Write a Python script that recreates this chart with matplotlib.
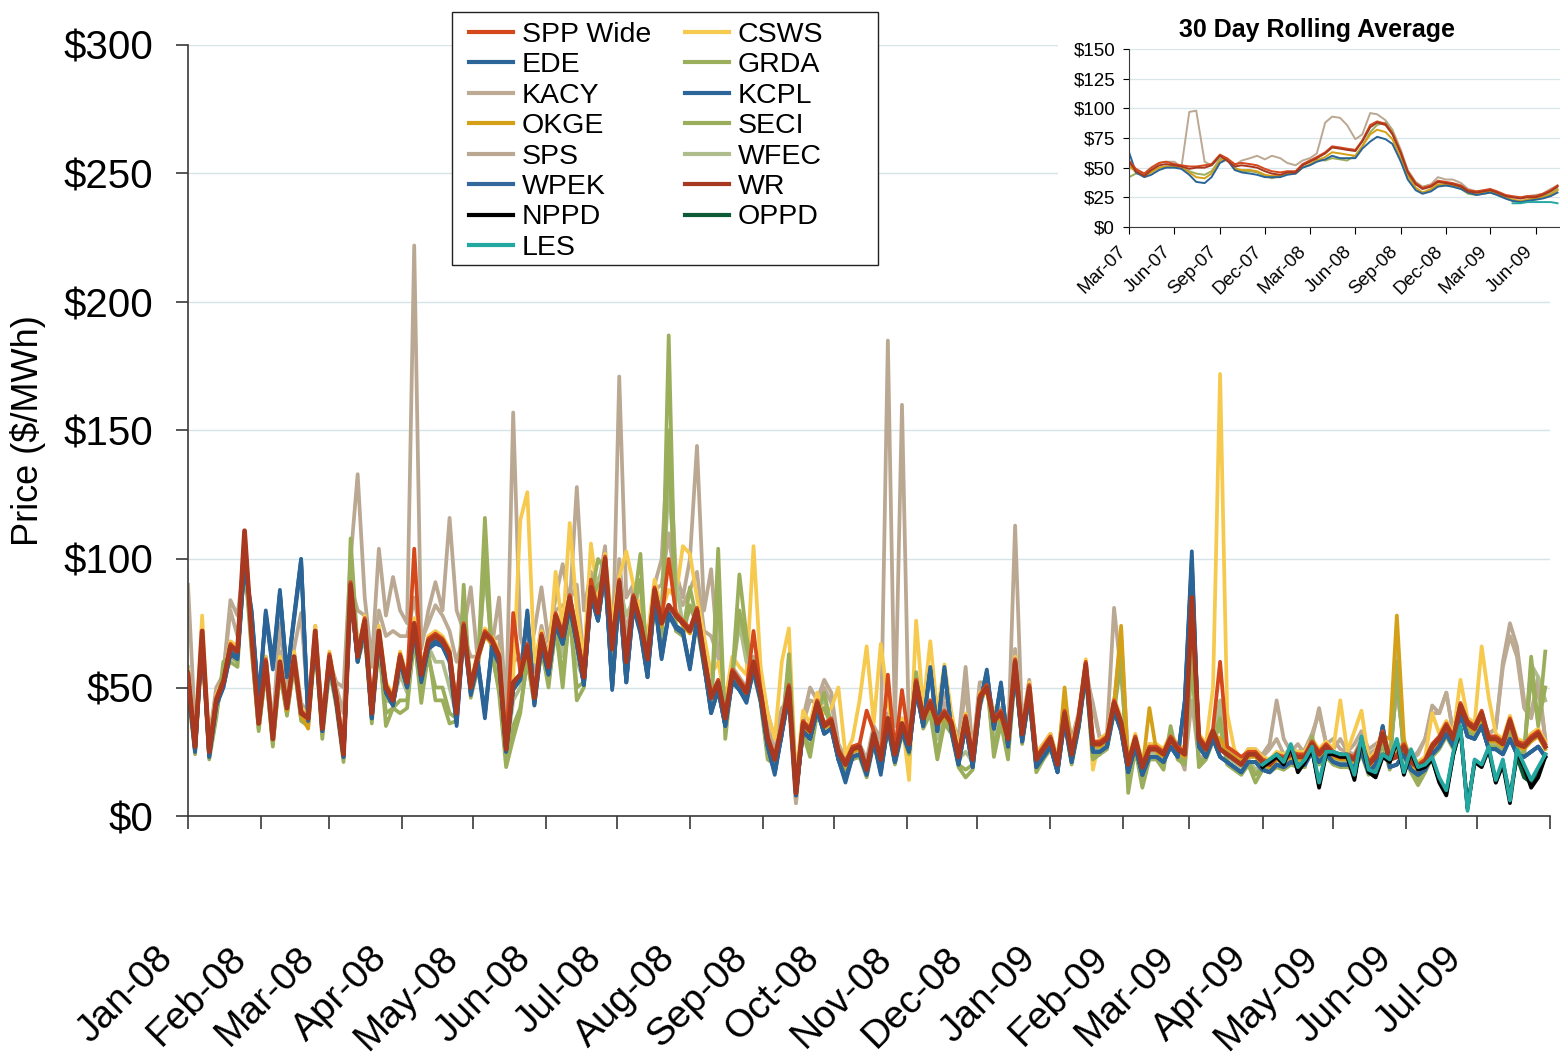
import numpy as np
import pandas as pd
import matplotlib
matplotlib.use("Agg")
import matplotlib.pyplot as plt
from matplotlib.patches import Rectangle
from matplotlib.transforms import ScaledTranslation, blended_transform_factory

plt.rcParams["font.family"] = ["Liberation Sans", "DejaVu Sans"]

# daily prices sampled every 3 days, Jan-08 .. Jul-09
days = pd.date_range("2008-01-01", periods=193, freq="3D")
late_days = pd.date_range("2009-04-01", periods=41, freq="3D")

wr = [55, 27, 72, 25, 45, 52, 66, 64, 111, 70,
      36, 60, 30, 60, 42, 62, 40, 38, 72, 34,
      62, 46, 24, 90, 62, 76, 40, 72, 50, 45,
      62, 52, 75, 55, 68, 70, 68, 63, 40, 74,
      50, 62, 71, 68, 62, 26, 52, 55, 66, 46,
      70, 58, 78, 70, 85, 70, 54, 89, 79, 100,
      65, 91, 60, 85, 75, 61, 88, 75, 82, 78,
      75, 72, 80, 62, 46, 52, 38, 56, 52, 48,
      60, 48, 30, 22, 35, 50, 9, 36, 33, 44,
      35, 37, 25, 20, 26, 27, 18, 32, 22, 38,
      24, 36, 28, 52, 38, 44, 36, 40, 36, 23,
      38, 22, 46, 50, 37, 40, 30, 60, 32, 50,
      22, 26, 30, 20, 40, 24, 38, 59, 28, 28,
      30, 44, 36, 20, 30, 19, 26, 26, 24, 30,
      26, 24, 85, 30, 26, 33, 26, 24, 22, 20,
      24, 24, 21, 20, 23, 22, 24, 23, 23, 28,
      24, 27, 24, 23, 23, 22, 28, 20, 23, 32,
      22, 23, 27, 21, 19, 21, 27, 30, 35, 30,
      43, 36, 34, 40, 30, 30, 28, 37, 28, 27,
      30, 32, 27]

spp = [56, 28, 72, 26, 46, 53, 67, 64, 110, 71,
       37, 61, 31, 60, 43, 62, 41, 38, 72, 35,
       63, 47, 25, 91, 63, 77, 41, 72, 51, 46,
       63, 53, 104, 56, 69, 71, 69, 64, 42, 75,
       51, 63, 72, 69, 63, 27, 79, 56, 67, 47,
       71, 59, 79, 71, 86, 71, 55, 92, 80, 101,
       66, 92, 61, 86, 76, 62, 89, 76, 100, 79,
       76, 73, 81, 63, 47, 53, 39, 57, 53, 49,
       72, 49, 31, 23, 36, 51, 10, 37, 34, 45,
       36, 38, 26, 21, 27, 28, 41, 33, 23, 55,
       25, 49, 29, 53, 39, 45, 37, 41, 37, 24,
       39, 23, 47, 51, 38, 41, 31, 61, 33, 51,
       23, 27, 31, 21, 41, 25, 39, 60, 29, 29,
       31, 45, 37, 21, 31, 20, 27, 27, 25, 31,
       27, 25, 85, 31, 27, 34, 60, 27, 25, 23,
       25, 25, 22, 21, 24, 23, 25, 24, 24, 29,
       25, 28, 25, 24, 24, 23, 29, 21, 24, 33,
       23, 24, 28, 22, 20, 22, 28, 31, 36, 31,
       44, 37, 35, 41, 31, 31, 29, 38, 29, 28,
       31, 33, 28]

ede = [52, 25, 70, 23, 43, 50, 63, 62, 98, 80,
       45, 80, 60, 88, 55, 78, 100, 38, 70, 33,
       60, 44, 23, 88, 60, 74, 38, 70, 48, 43,
       60, 50, 72, 53, 65, 68, 66, 60, 36, 72,
       48, 60, 40, 66, 60, 25, 50, 53, 80, 44,
       67, 55, 75, 67, 82, 67, 51, 86, 76, 96,
       50, 88, 52, 82, 72, 54, 85, 62, 79, 74,
       72, 58, 77, 59, 40, 49, 35, 53, 49, 45,
       57, 45, 27, 17, 32, 47, 8, 33, 30, 41,
       32, 34, 22, 14, 23, 24, 16, 29, 17, 35,
       21, 33, 25, 49, 35, 58, 33, 58, 33, 20,
       35, 19, 43, 57, 34, 52, 27, 57, 29, 47,
       19, 23, 27, 17, 37, 21, 35, 56, 25, 25,
       27, 41, 33, 17, 27, 16, 23, 23, 21, 27,
       23, 45, 103, 27, 23, 30, 23, 21, 19, 17,
       21, 21, 18, 17, 20, 19, 21, 20, 20, 25,
       21, 24, 21, 20, 20, 19, 25, 17, 20, 35,
       19, 20, 24, 18, 16, 18, 24, 27, 32, 27,
       40, 31, 30, 35, 26, 26, 24, 30, 24, 23,
       25, 27, 23]

kcpl = [52, 25, 69, 23, 43, 50, 63, 61, 98, 79,
        44, 79, 58, 87, 54, 77, 100, 37, 69, 33,
        60, 44, 23, 87, 60, 73, 38, 69, 48, 43,
        60, 50, 72, 52, 65, 67, 66, 60, 35, 71,
        47, 59, 38, 65, 59, 25, 49, 53, 79, 43,
        66, 55, 74, 67, 81, 67, 51, 85, 76, 95,
        49, 87, 52, 81, 71, 54, 84, 61, 78, 73,
        71, 57, 76, 59, 40, 49, 35, 52, 49, 44,
        57, 45, 27, 16, 32, 47, 8, 33, 30, 41,
        32, 34, 22, 13, 23, 24, 16, 29, 16, 35,
        21, 33, 25, 49, 35, 57, 33, 57, 33, 20,
        35, 19, 43, 56, 34, 51, 27, 57, 29, 47,
        19, 23, 27, 17, 37, 21, 35, 56, 25, 25,
        27, 41, 33, 17, 27, 16, 23, 23, 21, 27,
        23, 44, 100, 27, 23, 30, 23, 21, 19, 17,
        21, 21, 18, 17, 20, 19, 21, 20, 20, 25,
        21, 24, 21, 20, 20, 19, 25, 17, 20, 35,
        19, 20, 24, 18, 16, 18, 24, 27, 32, 27,
        40, 31, 30, 35, 26, 26, 24, 30, 24, 23,
        25, 27, 23]

wpek = [53, 26, 70, 24, 44, 51, 64, 62, 99, 78,
        44, 78, 57, 86, 54, 76, 98, 37, 70, 33,
        60, 44, 23, 88, 60, 74, 38, 70, 48, 43,
        60, 50, 73, 53, 66, 68, 66, 61, 37, 72,
        48, 60, 40, 66, 60, 25, 50, 53, 78, 44,
        67, 55, 75, 67, 82, 67, 51, 86, 76, 96,
        50, 88, 52, 82, 72, 55, 85, 62, 79, 74,
        72, 58, 77, 59, 41, 49, 35, 53, 49, 45,
        57, 45, 27, 17, 32, 47, 8, 33, 30, 41,
        32, 34, 22, 15, 23, 24, 17, 29, 18, 35,
        21, 33, 25, 49, 35, 57, 33, 57, 33, 20,
        35, 19, 43, 56, 34, 51, 27, 57, 29, 47,
        19, 23, 27, 17, 37, 21, 35, 56, 25, 25,
        27, 41, 33, 17, 27, 16, 23, 23, 21, 27,
        23, 44, 98, 27, 23, 30, 23, 21, 19, 17,
        21, 21, 18, 17, 20, 19, 21, 20, 20, 25,
        21, 24, 21, 20, 20, 19, 25, 17, 20, 34,
        19, 20, 24, 18, 16, 18, 24, 27, 32, 27,
        40, 31, 30, 35, 26, 26, 24, 30, 24, 23,
        25, 27, 23]

okge = [54, 26, 71, 24, 44, 51, 65, 63, 108, 69,
        36, 59, 30, 59, 41, 61, 39, 34, 71, 33,
        61, 45, 23, 89, 61, 75, 39, 71, 49, 44,
        61, 51, 74, 54, 67, 69, 67, 62, 40, 73,
        49, 61, 70, 67, 61, 25, 52, 54, 65, 45,
        69, 57, 77, 69, 84, 69, 53, 88, 78, 99,
        64, 90, 59, 84, 74, 60, 87, 74, 81, 80,
        74, 71, 79, 61, 45, 51, 37, 55, 51, 47,
        59, 47, 29, 21, 34, 49, 8, 35, 32, 43,
        34, 36, 24, 19, 25, 26, 17, 31, 21, 37,
        23, 35, 27, 51, 37, 43, 35, 39, 35, 22,
        37, 21, 45, 49, 36, 39, 29, 59, 31, 49,
        21, 25, 29, 19, 50, 23, 37, 58, 27, 27,
        29, 43, 74, 19, 29, 18, 42, 25, 23, 29,
        25, 23, 82, 29, 25, 32, 30, 25, 23, 21,
        23, 23, 20, 19, 22, 21, 23, 22, 22, 27,
        23, 26, 23, 22, 22, 21, 27, 19, 22, 31,
        30, 78, 30, 20, 18, 20, 26, 29, 34, 29,
        43, 35, 33, 39, 29, 29, 27, 36, 27, 26,
        29, 31, 26]

csws = [57, 29, 78, 27, 47, 54, 68, 66, 108, 72,
        38, 62, 32, 62, 44, 64, 42, 40, 74, 36,
        64, 48, 26, 92, 64, 78, 42, 74, 52, 47,
        64, 54, 77, 57, 70, 72, 70, 65, 42, 76,
        52, 64, 73, 70, 64, 28, 54, 115, 126, 60,
        72, 60, 95, 72, 114, 80, 60, 106, 85, 102,
        75, 93, 103, 90, 80, 70, 92, 80, 88, 85,
        105, 102, 85, 70, 55, 60, 45, 62, 58, 55,
        105, 58, 40, 30, 60, 73, 14, 41, 36, 48,
        40, 42, 50, 24, 30, 45, 66, 36, 67, 45,
        28, 38, 14, 76, 42, 68, 40, 59, 40, 26,
        40, 24, 48, 50, 39, 48, 32, 62, 34, 52,
        24, 28, 32, 22, 42, 26, 40, 61, 18, 30,
        32, 46, 38, 22, 32, 21, 28, 28, 26, 32,
        28, 26, 80, 32, 28, 50, 172, 40, 26, 22,
        26, 26, 23, 22, 25, 24, 26, 25, 25, 30,
        26, 29, 26, 45, 25, 33, 41, 22, 25, 34,
        24, 25, 29, 23, 21, 23, 40, 32, 37, 32,
        53, 38, 36, 66, 46, 32, 30, 39, 30, 29,
        32, 34, 29]

grda = [50, 24, 68, 22, 38, 60, 62, 60, 105, 66,
        33, 57, 27, 57, 39, 60, 37, 35, 68, 30,
        58, 42, 21, 108, 65, 72, 36, 68, 35, 42,
        40, 42, 70, 44, 64, 45, 45, 36, 37, 90,
        46, 58, 116, 64, 48, 19, 30, 40, 62, 43,
        66, 50, 74, 50, 80, 45, 50, 85, 100, 96,
        50, 87, 60, 81, 102, 54, 84, 70, 187, 74,
        71, 89, 76, 58, 42, 104, 30, 55, 94, 70,
        56, 44, 22, 20, 31, 63, 10, 32, 23, 40,
        48, 35, 22, 18, 22, 23, 15, 28, 18, 34,
        20, 32, 24, 56, 34, 40, 22, 36, 32, 19,
        15, 18, 42, 53, 23, 36, 22, 56, 28, 46,
        17, 22, 26, 20, 36, 20, 34, 55, 22, 24,
        26, 40, 66, 9, 26, 11, 22, 22, 18, 35,
        22, 20, 70, 19, 22, 29, 35, 20, 18, 16,
        20, 13, 18, 17, 19, 18, 20, 19, 19, 31,
        20, 23, 20, 19, 19, 18, 24, 16, 19, 28,
        18, 60, 23, 17, 12, 17, 23, 26, 31, 26,
        39, 32, 30, 36, 26, 26, 24, 33, 24, 23,
        62, 35, 64]

seci = [48, 25, 66, 23, 40, 55, 60, 58, 100, 64,
        34, 56, 28, 55, 40, 58, 38, 36, 66, 32,
        56, 44, 22, 95, 60, 70, 38, 66, 40, 42,
        45, 45, 68, 48, 62, 50, 50, 40, 38, 80,
        48, 56, 100, 62, 50, 22, 35, 42, 60, 44,
        64, 52, 72, 55, 78, 50, 52, 84, 90, 92,
        55, 85, 58, 80, 92, 56, 82, 68, 150, 72,
        70, 82, 74, 58, 44, 88, 34, 54, 80, 66,
        55, 45, 24, 21, 32, 58, 12, 33, 26, 40,
        42, 35, 23, 19, 23, 24, 17, 29, 20, 35,
        21, 33, 25, 54, 35, 42, 24, 37, 33, 20,
        18, 20, 43, 52, 26, 38, 24, 56, 29, 47,
        19, 23, 27, 20, 37, 21, 35, 55, 23, 25,
        27, 41, 60, 12, 27, 13, 23, 23, 20, 33,
        23, 21, 60, 21, 23, 30, 38, 21, 19, 17,
        21, 16, 19, 18, 20, 19, 21, 20, 20, 30,
        21, 24, 21, 20, 20, 19, 25, 17, 20, 29,
        19, 55, 24, 18, 14, 18, 24, 27, 32, 27,
        40, 33, 31, 37, 27, 27, 25, 34, 25, 24,
        55, 36, 50]

wfec = [52, 26, 69, 24, 44, 55, 64, 62, 105, 68,
        35, 59, 29, 58, 41, 61, 39, 37, 70, 33,
        60, 45, 23, 85, 62, 74, 38, 70, 45, 44,
        55, 48, 72, 50, 66, 60, 60, 50, 39, 82,
        49, 60, 95, 66, 55, 24, 45, 50, 64, 45,
        68, 56, 76, 62, 82, 60, 53, 87, 92, 98,
        62, 89, 78, 84, 90, 60, 86, 80, 130, 92,
        74, 80, 78, 62, 45, 85, 36, 55, 75, 60,
        58, 47, 28, 22, 34, 60, 10, 35, 32, 42,
        45, 36, 24, 19, 24, 25, 18, 30, 21, 36,
        23, 34, 26, 52, 36, 43, 30, 38, 34, 22,
        25, 21, 44, 52, 30, 39, 28, 58, 30, 48,
        20, 24, 28, 20, 38, 22, 36, 57, 26, 26,
        28, 42, 68, 14, 28, 15, 24, 24, 22, 30,
        24, 22, 65, 26, 24, 31, 45, 23, 21, 19,
        22, 18, 20, 19, 22, 20, 22, 21, 21, 30,
        22, 25, 22, 21, 21, 20, 26, 18, 21, 30,
        20, 67, 26, 19, 16, 19, 25, 28, 33, 28,
        42, 34, 32, 38, 28, 28, 26, 35, 26, 25,
        59, 54, 45]

kacy = [58, 30, 66, 28, 48, 55, 80, 70, 95, 72,
        40, 62, 33, 64, 46, 64, 44, 40, 74, 37,
        62, 50, 40, 90, 80, 78, 58, 80, 70, 72,
        70, 70, 85, 68, 75, 82, 78, 72, 60, 70,
        62, 62, 70, 68, 70, 38, 60, 62, 66, 56,
        74, 62, 80, 82, 84, 90, 60, 90, 84, 100,
        60, 100, 70, 88, 80, 58, 88, 90, 110, 88,
        82, 88, 95, 72, 70, 62, 46, 58, 54, 50,
        60, 52, 34, 26, 38, 44, 5, 36, 45, 44,
        50, 44, 28, 22, 26, 28, 20, 34, 26, 40,
        26, 38, 28, 50, 38, 44, 36, 44, 36, 28,
        50, 24, 50, 50, 38, 40, 30, 65, 34, 52,
        24, 28, 32, 22, 42, 26, 40, 58, 42, 30,
        30, 44, 70, 22, 28, 16, 26, 24, 24, 28,
        26, 20, 45, 22, 24, 32, 35, 26, 24, 22,
        26, 26, 23, 26, 30, 24, 25, 25, 26, 32,
        40, 28, 26, 30, 25, 24, 30, 24, 26, 30,
        24, 50, 28, 22, 24, 30, 40, 40, 48, 32,
        40, 38, 36, 38, 32, 34, 58, 70, 62, 42,
        38, 50, 30]

sps = [90, 35, 62, 30, 50, 55, 84, 78, 100, 72,
       40, 62, 35, 75, 48, 65, 79, 42, 70, 38,
       60, 52, 50, 100, 133, 85, 60, 104, 78, 93,
       80, 75, 222, 65, 80, 91, 80, 116, 80, 72,
       89, 60, 72, 66, 85, 40, 157, 70, 60, 72,
       89, 68, 85, 98, 82, 128, 80, 95, 88, 105,
       55, 171, 85, 90, 80, 58, 90, 100, 150, 95,
       85, 100, 144, 80, 96, 62, 45, 58, 52, 48,
       62, 55, 40, 30, 42, 45, 5, 38, 50, 45,
       53, 48, 28, 22, 27, 28, 22, 35, 30, 185,
       35, 160, 30, 52, 40, 45, 38, 48, 38, 30,
       58, 25, 52, 52, 40, 42, 28, 113, 35, 53,
       24, 28, 30, 22, 45, 30, 40, 55, 44, 30,
       32, 81, 55, 22, 28, 14, 28, 24, 26, 28,
       25, 18, 60, 22, 24, 30, 40, 26, 25, 22,
       26, 25, 24, 28, 45, 30, 25, 28, 24, 30,
       42, 28, 30, 26, 25, 28, 33, 26, 28, 30,
       24, 50, 28, 22, 25, 30, 43, 40, 48, 32,
       40, 38, 36, 38, 32, 34, 60, 75, 66, 45,
       40, 54, 30]

# only reported from Apr-09
les = [20, 22, 24, 21, 28, 19, 22, 27, 13, 25,
       25, 24, 24, 16, 31, 18, 17, 24, 22, 30,
       17, 26, 19, 20, 23, 15, 10, 25, 35, 2,
       22, 20, 27, 14, 22, 6, 26, 20, 14, 19, 24]
nppd = [19, 21, 23, 20, 27, 17, 21, 26, 11, 24,
        24, 23, 23, 14, 30, 17, 15, 23, 21, 29,
        16, 25, 18, 19, 22, 13, 8, 24, 34, 3,
        21, 19, 26, 13, 20, 5, 25, 19, 11, 15, 23]
oppd = [20, 21, 24, 21, 27, 18, 22, 26, 12, 25,
        24, 24, 23, 15, 30, 18, 16, 24, 22, 29,
        17, 25, 19, 20, 22, 14, 9, 24, 34, 3,
        21, 20, 26, 13, 21, 8, 23, 15, 13, 17, 24]

# 30 day rolling average, 1st and 15th of each month, Mar-07 .. Jul-09
roll_days = pd.date_range("2007-03-01", periods=58, freq="SMS")
roll_late = pd.date_range("2009-04-15", periods=7, freq="SMS")
roll_wr = [55, 47, 43, 48, 52, 53, 52, 51, 49, 50, 50, 52, 60, 56, 51, 52,
           51, 50, 47, 45, 44, 46, 46, 52, 55, 58, 62, 67, 66, 65, 64, 72,
           84, 88, 86, 78, 62, 46, 36, 32, 34, 38, 37, 36, 34, 30, 29, 30,
           31, 29, 26, 25, 24, 25, 25, 27, 30, 34]
roll_spp = [56, 49, 45, 50, 54, 55, 53, 52, 51, 51, 52, 53, 61, 58, 53, 54,
            53, 52, 49, 47, 46, 47, 47, 53, 56, 59, 63, 68, 67, 66, 65, 73,
            86, 89, 87, 79, 63, 47, 37, 33, 35, 39, 38, 37, 35, 31, 30, 31,
            32, 30, 27, 26, 25, 26, 26, 28, 31, 35]
roll_ede = [63, 46, 42, 44, 48, 50, 50, 49, 44, 38, 37, 42, 54, 57, 48, 46,
            45, 44, 42, 42, 42, 44, 45, 50, 52, 55, 57, 60, 58, 58, 58, 66,
            72, 76, 74, 70, 55, 40, 31, 28, 30, 34, 35, 34, 32, 29, 27, 28,
            29, 27, 24, 22, 21, 22, 23, 24, 26, 29]
roll_okge = [52, 46, 43, 46, 50, 51, 51, 50, 46, 42, 41, 45, 56, 57, 49, 48,
             48, 47, 44, 43, 43, 45, 45, 50, 53, 56, 59, 63, 62, 61, 60, 68,
             78, 82, 80, 74, 58, 43, 33, 29, 32, 36, 36, 35, 33, 29, 28, 29,
             30, 28, 25, 23, 22, 23, 24, 25, 27, 31]
roll_grda = [42, 45, 44, 47, 50, 51, 51, 50, 47, 45, 44, 47, 57, 58, 50, 47,
             47, 46, 43, 41, 43, 45, 46, 52, 56, 57, 56, 58, 57, 56, 60, 68,
             80, 86, 88, 80, 63, 45, 33, 29, 31, 35, 35, 34, 32, 28, 27, 28,
             29, 27, 24, 22, 21, 23, 24, 26, 28, 32]
roll_sps = [50, 48, 45, 50, 54, 55, 55, 50, 97, 98, 55, 52, 58, 56, 52, 56,
            58, 60, 57, 60, 58, 54, 52, 56, 58, 62, 88, 93, 92, 86, 74, 78,
            96, 95, 90, 82, 65, 48, 38, 34, 36, 42, 40, 40, 37, 32, 30, 30,
            32, 28, 26, 25, 25, 26, 27, 28, 32, 35]
roll_les = [20, 20, 21, 21, 21, 21, 20]

legend_order = ["SPP Wide", "EDE", "KACY", "OKGE", "SPS", "WPEK", "NPPD", "LES",
                "CSWS", "GRDA", "KCPL", "SECI", "WFEC", "WR", "OPPD"]
colors = {
    "SPP Wide": "#d4481c", "EDE": "#2b6496", "KACY": "#bcaa93", "OKGE": "#d4a017",
    "SPS": "#baa892", "WPEK": "#34679b", "NPPD": "#000000", "LES": "#22a8a0",
    "CSWS": "#f6c94f", "GRDA": "#9bae5b", "KCPL": "#2c6599", "SECI": "#9aad5a",
    "WFEC": "#afbd8c", "WR": "#a8381f", "OPPD": "#0f5a36",
}
series = {
    "SPS": (days, sps), "KACY": (days, kacy), "CSWS": (days, csws),
    "WFEC": (days, wfec), "SECI": (days, seci), "GRDA": (days, grda),
    "OKGE": (days, okge), "KCPL": (days, kcpl), "WPEK": (days, wpek),
    "EDE": (days, ede), "SPP Wide": (days, spp), "WR": (days, wr),
    "OPPD": (late_days, oppd), "NPPD": (late_days, nppd), "LES": (late_days, les),
}

fig = plt.figure(figsize=(15.6, 10.56), dpi=100)
ax = fig.add_axes([188 / 1560, 1 - 816 / 1056, 1362 / 1560, 771 / 1056])

handles = {}
for z, (name, (x, y)) in enumerate(series.items()):
    lw = 3.4 if name == "WR" else 2.7
    line, = ax.plot(x, y, color=colors[name], lw=lw, zorder=2 + z * 0.05,
                    solid_joinstyle="round", label=name)
    handles[name] = line

ax.set_xlim(pd.Timestamp("2008-01-01"), pd.Timestamp("2009-08-01"))
ax.set_ylim(0, 300)
ax.set_yticks(range(0, 301, 50))
ax.set_yticklabels([f"${v}" for v in range(0, 301, 50)], fontsize=29)
ax.grid(axis="y", color="#d6e4e7", lw=1.0, zorder=0)
ax.set_axisbelow(True)
for side in ["top", "right"]:
    ax.spines[side].set_visible(False)
for side in ["left", "bottom"]:
    ax.spines[side].set_color("#3a3a3a")
    ax.spines[side].set_linewidth(1.2)
ax.tick_params(axis="y", direction="out", length=9, width=1.2, color="#3a3a3a", pad=16)

month_ticks = pd.date_range("2008-01-01", "2009-08-01", freq="MS")
ax.set_xticks(month_ticks)
ax.set_xticklabels([])
ax.tick_params(axis="x", direction="out", length=9, width=1.2, color="#3a3a3a")
lab_tf = blended_transform_factory(ax.transData, ax.transAxes) + \
    ScaledTranslation(-0.33, -1.24, fig.dpi_scale_trans)
for d in month_ticks[:-1]:
    ax.text(d, 0, d.strftime("%b-%y"), transform=lab_tf, fontsize=28,
            rotation=45, ha="right", va="top", rotation_mode="anchor")

ax.set_ylabel("Price ($/MWh)", fontsize=26)
ax.yaxis.set_label_coords(-0.104, 0.5)

# legend: frame drawn as its own box, entries placed inside it
fig.add_artist(Rectangle((452 / 1560, 1 - 265 / 1056), 426 / 1560, 253 / 1056,
                         transform=fig.transFigure, facecolor="white",
                         edgecolor="#222222", lw=1.0, zorder=4))
leg = fig.legend([handles[n] for n in legend_order], legend_order, ncol=2,
                 loc="upper left", bbox_to_anchor=(469 / 1560, 1 - 22 / 1056),
                 fontsize=20.5, frameon=False, handlelength=1.55,
                 handletextpad=0.3, columnspacing=1.2, labelspacing=0.155,
                 borderpad=0, borderaxespad=0)
leg.set_zorder(5)
for h in leg.legend_handles:
    h.set_linewidth(3)

# white block behind the inset
fig.add_artist(Rectangle((1058 / 1560, 1 - 300 / 1056), 502 / 1560, 300 / 1056,
                         transform=fig.transFigure, facecolor="white",
                         edgecolor="none", zorder=1))

ins = fig.add_axes([1129 / 1560, 1 - 227 / 1056, 431 / 1560, 178 / 1056], zorder=2)
roll = [(roll_days, roll_sps, "SPS"), (roll_days, roll_grda, "GRDA"),
        (roll_days, roll_okge, "OKGE"), (roll_days, roll_ede, "EDE"),
        (roll_days, roll_spp, "SPP Wide"), (roll_days, roll_wr, "WR"),
        (roll_late, roll_les, "LES")]
for x, y, name in roll:
    ins.plot(x, y, color=colors[name], lw=1.4)
ins.set_xlim(pd.Timestamp("2007-03-01"), pd.Timestamp("2009-07-20"))
ins.set_ylim(0, 150)
ins.set_yticks(range(0, 151, 25))
ins.set_yticklabels([f"${v}" for v in range(0, 151, 25)], fontsize=13.5)
ins.grid(axis="y", color="#d8e6ea", lw=0.9)
ins.set_axisbelow(True)
for side in ["top", "right"]:
    ins.spines[side].set_visible(False)
for side in ["left", "bottom"]:
    ins.spines[side].set_color("#3a3a3a")
ins.tick_params(axis="y", length=4, pad=6)
q_ticks = pd.date_range("2007-03-01", periods=10, freq="3MS")
ins.set_xticks(q_ticks)
ins.set_xticklabels([])
ins.tick_params(axis="x", length=5)
ins_tf = blended_transform_factory(ins.transData, ins.transAxes) + \
    ScaledTranslation(-0.12, -0.16, fig.dpi_scale_trans)
for d in q_ticks:
    ins.text(d, 0, d.strftime("%b-%y"), transform=ins_tf, fontsize=13.5,
             rotation=45, ha="right", va="top", rotation_mode="anchor")
fig.text(1317 / 1560, 1 - 30 / 1056, "30 Day Rolling Average", ha="center",
         va="center", fontsize=18, fontweight="bold", zorder=3)

fig.savefig("out.png", dpi=100)
